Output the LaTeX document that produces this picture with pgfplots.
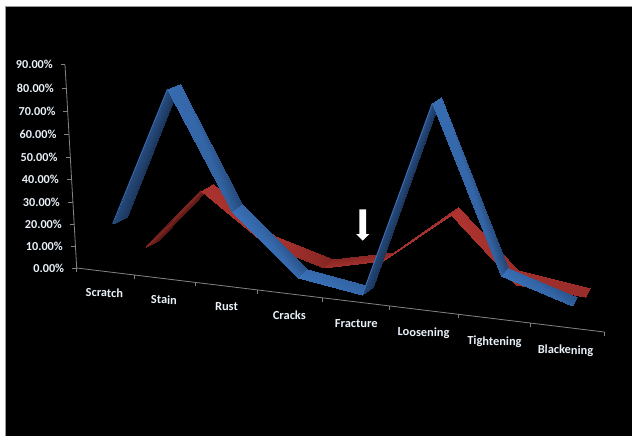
\documentclass[border=0pt]{standalone}
\usepackage{pgfplots}
\pgfplotsset{compat=1.18}
\usepackage{fontspec}
\setmainfont{Carlito}
\definecolor{axisgray}{RGB}{132,132,132}
\definecolor{labelcol}{RGB}{232,240,248}
\definecolor{bluerim}{RGB}{58,112,182}
\definecolor{redrim}{RGB}{140,42,40}

\pgfplotsset{
  colormap={bluefade}{rgb255=(28,54,92) rgb255=(58,114,186)},
  colormap={redfade}{rgb255=(82,22,20) rgb255=(176,52,48)},
  face/.style={patch, patch type=rectangle, shader=interp, point meta=explicit, point meta min=0, point meta max=1},
  frame/.style={no marks, draw=axisgray, line width=0.8pt},
}
\newcommand{\ticklab}[3]{\node[anchor=east, text=labelcol, font=\bfseries\fontsize{12.2}{14}\selectfont, inner sep=0pt] at (axis cs:#1,#2) {#3};}
\newcommand{\catlab}[3]{\node[anchor=center, text=labelcol, font=\bfseries\fontsize{12.4}{14}\selectfont, inner sep=0pt, rotate=-1] at (axis cs:#1,#2) {#3};}

\begin{document}
\begin{tikzpicture}
\begin{axis}[
  width=632pt, height=436pt, scale only axis,
  xmin=0, xmax=632, ymin=0, ymax=436, y dir=reverse,
  axis lines=none, clip=true,
]
% page and plot background
\addplot[fill=white, draw=none] coordinates {(0,0) (632,0) (632,436) (0,436)};
\addplot[fill=black, draw=white!60!black, line width=1pt] coordinates {(5.5,436) (5.5,6.5) (640,6.5) (640,436)};

% value axis and its ticks
\addplot[frame] coordinates {(65,64.7) (76.7,268)};
\addplot[frame] coordinates {(60.5,64.7) (65,64.7)};
\addplot[frame] coordinates {(61.8,88.3) (66.4,88.3)};
\addplot[frame] coordinates {(63.1,111.7) (67.7,111.7)};
\addplot[frame] coordinates {(64.4,134.3) (69,134.3)};
\addplot[frame] coordinates {(65.7,157) (70.3,157)};
\addplot[frame] coordinates {(67,179.3) (71.6,179.3)};
\addplot[frame] coordinates {(68.3,202) (72.9,202)};
\addplot[frame] coordinates {(69.6,224) (74.2,224)};
\addplot[frame] coordinates {(70.9,246.3) (75.5,246.3)};
\addplot[frame] coordinates {(72.2,268) (76.7,268)};

% category axis and its ticks
\addplot[frame] coordinates {(76.7,268) (604.3,332)};
\addplot[frame] coordinates {(76.7,268) (76.7,272)};
\addplot[frame] coordinates {(134.3,275) (134.3,279)};
\addplot[frame] coordinates {(195,282.3) (195,286.3)};
\addplot[frame] coordinates {(257,289.8) (257,293.8)};
\addplot[frame] coordinates {(322,297.8) (322,301.8)};
\addplot[frame] coordinates {(389,305.9) (389,309.9)};
\addplot[frame] coordinates {(458,314.3) (458,318.3)};
\addplot[frame] coordinates {(530,323) (530,327)};
\addplot[frame] coordinates {(604.3,332) (604.3,336)};

% red ribbon, rear series
\addplot[face, colormap name=redfade] coordinates {(146,247) [0.5] (201,190.7) [0.5] (212.7,183.7) [0] (158.3,240.7) [0]};
\addplot[no marks, draw=redrim, line width=0.7pt] coordinates {(146,247) (201,190.7)};
\addplot[face, colormap name=redfade] coordinates {(201,190.7) [0.95] (266,245) [0.9] (275,236) [0.85] (212.7,183.7) [0.9]};
\addplot[face, colormap name=redfade] coordinates {(266,245) [0.9] (324,267.7) [0.6] (332.7,259.3) [0.5] (275,236) [0.95]};
\addplot[face, colormap name=redfade] coordinates {(324,267.7) [0.85] (383.3,260.7) [0.85] (394,252.3) [0.6] (332.7,259.3) [0.55]};
\addplot[face, colormap name=redfade] coordinates {(383.3,260.7) [1] (450.7,215) [1] (457.7,207.3) [0.8] (394,252.3) [0.8]};
\addplot[face, colormap name=redfade] coordinates {(450.7,215) [1] (516,285) [0.85] (518.3,270) [0.75] (457.7,207.3) [0.95]};
\addplot[face, colormap name=redfade] coordinates {(516,285) [0.85] (585,297.3) [0.75] (590,288.3) [0.75] (518.3,270) [0.85]};

% blue ribbon, front series
\addplot[face, colormap name=bluefade] coordinates {(112.7,223.7) [0.3] (167.3,89.3) [0.4] (180,83.7) [0] (126.7,217.3) [0]};
\addplot[no marks, draw=bluerim, line width=0.8pt] coordinates {(112.7,223.7) (167.3,89.3)};
\addplot[face, colormap name=bluefade] coordinates {(167.3,89.3) [0.9] (232.3,211.7) [0.7] (242.3,204) [0.3] (180,83.7) [0.85]};
\addplot[face, colormap name=bluefade] coordinates {(232.3,211.7) [1] (297.7,277.7) [0.85] (306.7,269.3) [0.45] (242.3,204) [0.8]};
\addplot[face, colormap name=bluefade] coordinates {(297.7,277.7) [1] (362.3,295) [0.85] (373,287) [0.7] (306.7,269.3) [0.85]};
\addplot[face, colormap name=bluefade] coordinates {(362.3,295) [0.3] (432.3,103.3) [0.4] (441,97.3) [0] (373,287) [0]};
\addplot[no marks, draw=bluerim, line width=0.9pt] coordinates {(362.3,295) (432.3,103.3)};
\addplot[face, colormap name=bluefade] coordinates {(432.3,103.3) [0.9] (500.7,275.7) [0.7] (508.3,267.7) [0.25] (441,97.3) [0.9]};
\addplot[face, colormap name=bluefade] coordinates {(500.7,275.7) [1] (571.7,305.7) [0.75] (577.3,296.7) [0.45] (508.3,267.7) [0.85]};

% arrow marking Fracture
\addplot[fill=white, draw=none] coordinates {(359.3,209.3) (366,209.3) (366,234) (369.3,234) (362.7,240.7) (356,234) (359.3,234)};

% value labels
\ticklab{53}{64.7}{90.00\%}
\ticklab{54}{88.3}{80.00\%}
\ticklab{55.7}{111.7}{70.00\%}
\ticklab{56.7}{134.3}{60.00\%}
\ticklab{57.7}{157}{50.00\%}
\ticklab{59}{179.3}{40.00\%}
\ticklab{60}{202}{30.00\%}
\ticklab{62}{224}{20.00\%}
\ticklab{63}{246.3}{10.00\%}
\ticklab{64.3}{268}{0.00\%}

% category labels
\catlab{104.4}{292.7}{Scratch}
\catlab{164}{299.7}{Stain}
\catlab{226.5}{306.7}{Rust}
\catlab{289.4}{315}{Cracks}
\catlab{356.3}{323.7}{Fracture}
\catlab{423.6}{333}{Loosening}
\catlab{494.5}{342}{Tightening}
\catlab{565.5}{350.7}{Blackening}
\end{axis}
\end{tikzpicture}
\end{document}
